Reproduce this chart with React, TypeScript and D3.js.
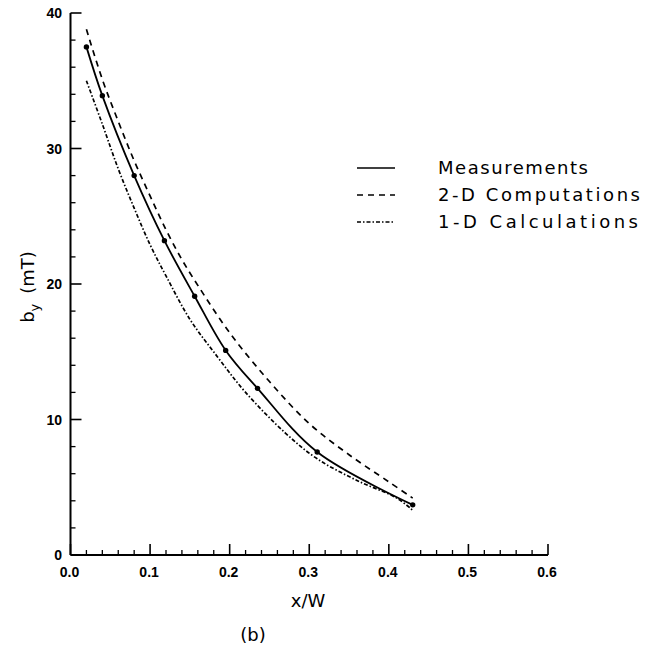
import React from "react";
import * as d3 from "d3";

// Measurements (solid with dots)
const measX = [0.02, 0.04, 0.08, 0.118, 0.156, 0.195, 0.235, 0.31, 0.43];
const measY = [37.5, 33.9, 28.0, 23.2, 19.1, 15.1, 12.3, 7.6, 3.7];

// 2-D Computations (dashed)
const compX = [0.02, 0.04, 0.06, 0.08, 0.1, 0.12, 0.14, 0.16, 0.2, 0.25, 0.3, 0.35, 0.4, 0.43];
const compY = [38.8, 35.1, 32.0, 29.1, 26.5, 24.0, 21.8, 19.9, 16.4, 12.8, 9.7, 7.4, 5.4, 4.2];

// 1-D Calculations (dash-dot)
const calcX = [0.02, 0.04, 0.06, 0.08, 0.1, 0.12, 0.15, 0.185, 0.22, 0.27, 0.31, 0.36, 0.41, 0.43];
const calcY = [35.0, 31.8, 28.5, 25.6, 22.9, 20.6, 17.4, 14.6, 12.0, 9.0, 7.1, 5.5, 4.2, 3.3];

const xMajor = [0, 0.1, 0.2, 0.3, 0.4, 0.5, 0.6];
const xLabels = ["0.0", "0.1", "0.2", "0.3", "0.4", "0.5", "0.6"];
const yMajor = [0, 10, 20, 30, 40];
const yLabels = ["0", "10", "20", "30", "40"];

const legendLabels = ["Measurements", "2-D Computations", "1-D Calculations"];

export default function App() {
  const x = d3.scaleLinear().domain([0, 0.6]).range([70.5, 548]);
  const y = d3.scaleLinear().domain([0, 40]).range([555, 13]);

  const xMinor = d3.range(0, 31).map((i) => i * 0.02).filter((v) => Math.abs(v * 10 - Math.round(v * 10)) > 1e-6);
  const yMinor = d3.range(0, 21).map((i) => i * 2).filter((v) => v % 10 !== 0);

  const lineGen = (xs: number[], ys: number[], curve: any) =>
    d3
      .line<number>()
      .x((_, i) => x(xs[i]))
      .y((d) => y(d))
      .curve(curve)(ys) as string;

  const measPath = lineGen(measX, measY, d3.curveCatmullRom.alpha(0.5));
  const compPath = lineGen(compX, compY, d3.curveCatmullRom.alpha(0.5));
  const calcPath = lineGen(calcX, calcY, d3.curveCatmullRom.alpha(0.5));

  const tickFont = { fontFamily: "Liberation Sans, Arial, sans-serif", fontWeight: 700, fontSize: 14 };
  const titleFont = { fontFamily: "DejaVu Sans, sans-serif", fontSize: 18 };

  const legendY = [168, 195, 222];
  const dashes = [undefined, "6,5", "4,2,1.5,2"];
  const textLens = [150, 202, 200];

  return (
    <svg width={648} height={648} style={{ position: "absolute", left: 0, top: 0, background: "#fff" }}>
      <rect x={0} y={0} width={648} height={648} fill="#fff" />
      {/* axes */}
      <line x1={x(0)} x2={x(0)} y1={y(0)} y2={y(40)} stroke="#000" strokeWidth={2} />
      <line x1={x(0)} x2={x(0.6)} y1={y(0)} y2={y(0)} stroke="#000" strokeWidth={2} />
      {yMajor.map((v, i) => (
        <g key={"ym" + i}>
          <line x1={x(0)} x2={x(0) + 11} y1={y(v)} y2={y(v)} stroke="#000" strokeWidth={1.6} />
          <text x={62} y={y(v)} dy="0.36em" textAnchor="end" {...tickFont}>
            {yLabels[i]}
          </text>
        </g>
      ))}
      {yMinor.map((v, i) => (
        <line key={"yn" + i} x1={x(0)} x2={x(0) + 5} y1={y(v)} y2={y(v)} stroke="#000" strokeWidth={1.3} />
      ))}
      {xMajor.map((v, i) => (
        <g key={"xm" + i}>
          <line x1={x(v)} x2={x(v)} y1={y(0)} y2={y(0) - 11} stroke="#000" strokeWidth={1.6} />
          <text x={x(v) - 1} y={577} textAnchor="middle" {...tickFont}>
            {xLabels[i]}
          </text>
        </g>
      ))}
      {xMinor.map((v, i) => (
        <line key={"xn" + i} x1={x(v)} x2={x(v)} y1={y(0)} y2={y(0) - 5} stroke="#000" strokeWidth={1.3} />
      ))}

      {/* curves */}
      <path d={compPath} fill="none" stroke="#000" strokeWidth={1.7} strokeDasharray="6,5" />
      <path d={calcPath} fill="none" stroke="#000" strokeWidth={1.7} strokeDasharray="4,2,1.5,2" />
      <path d={measPath} fill="none" stroke="#000" strokeWidth={1.8} />
      {measX.map((v, i) => (
        <circle key={"p" + i} cx={x(v)} cy={y(measY[i])} r={2.7} fill="#000" />
      ))}

      {/* legend */}
      {legendLabels.map((lab, i) => (
        <g key={"lg" + i}>
          <line x1={357} x2={395} y1={legendY[i]} y2={legendY[i]} stroke="#000" strokeWidth={1.7} strokeDasharray={dashes[i]} />
          <text x={438} y={legendY[i]} dy="0.36em" {...titleFont} textLength={textLens[i]} lengthAdjust="spacing">
            {lab}
          </text>
        </g>
      ))}

      {/* titles */}
      <text x={308} y={607} textAnchor="middle" {...titleFont}>
        x/W
      </text>
      <text x={253} y={641} textAnchor="middle" {...titleFont}>
        (b)
      </text>
      <text transform="translate(34,287) rotate(-90)" textAnchor="middle" {...titleFont}>
        b
        <tspan fontSize={13} dy={5}>y</tspan>
        <tspan dy={-5} dx={10}>(mT)</tspan>
      </text>
    </svg>
  );
}
